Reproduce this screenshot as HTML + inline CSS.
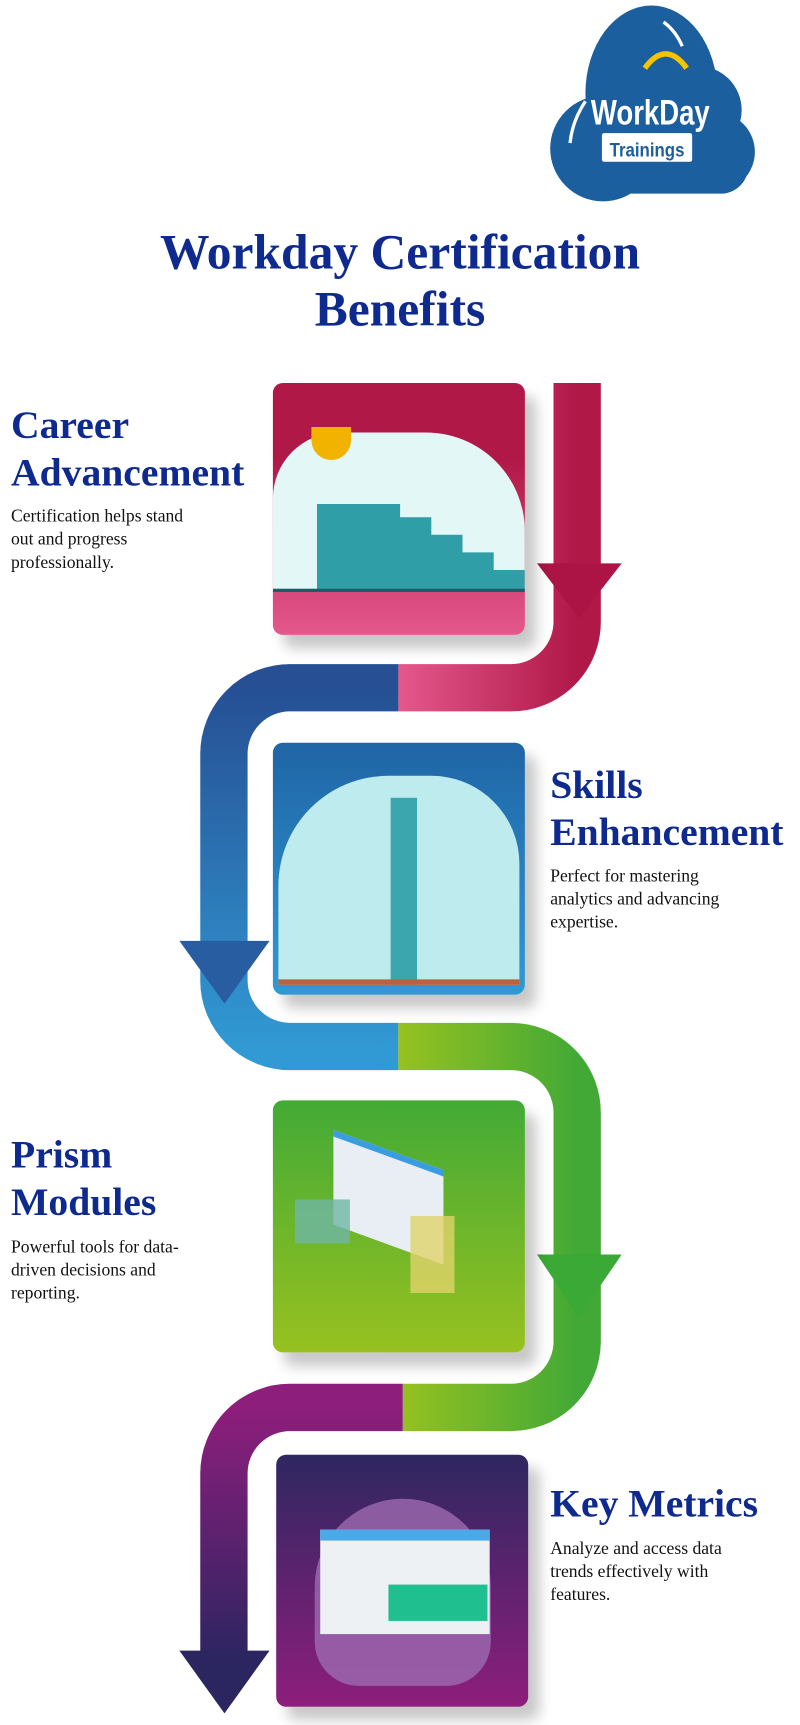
<!DOCTYPE html>
<html><head><meta charset="utf-8"><style>
html,body{margin:0;padding:0;background:#fff;}
body{width:800px;height:1724px;overflow:hidden;position:relative;}
#w{position:absolute;left:0;top:0;width:727px;height:1568px;transform:scale(1.1004);transform-origin:0 0;}
.t{position:absolute;font-family:"Liberation Serif",serif;}
.h{color:#0f2a8f;font-weight:bold;font-size:36px;line-height:43px;}
.p{color:#111;font-size:16px;line-height:21px;}
.card{position:absolute;width:229px;height:229px;border-radius:9px;box-shadow:10px 12px 12px rgba(0,0,0,.22);overflow:hidden;}
</style></head><body><div id="w">
<svg width="727" height="1568" style="position:absolute;left:0;top:0">
<defs>
<linearGradient id="gr" x1="0" x2="1"><stop offset="0" stop-color="#e4588c"/><stop offset="1" stop-color="#b01848"/></linearGradient>
<linearGradient id="gb" x1="0" y1="0" x2="0" y2="1"><stop offset="0" stop-color="#264f94"/><stop offset="1" stop-color="#3199d3"/></linearGradient>
<linearGradient id="gg" x1="0" x2="1"><stop offset="0" stop-color="#97c120"/><stop offset="1" stop-color="#42a936"/></linearGradient>
<linearGradient id="gp" x1="0" y1="0" x2="0" y2="1"><stop offset="0" stop-color="#8e1e7c"/><stop offset="1" stop-color="#2b2560"/></linearGradient>
</defs>
<!-- logo -->
<g fill="#1c5f9e">
<ellipse cx="592" cy="85" rx="60" ry="80"/>
<circle cx="548" cy="135" r="48"/><circle cx="650" cy="138" r="36"/><circle cx="634" cy="100" r="40"/>
<rect x="520" y="120" width="160" height="56" rx="25"/>
</g>
<path d="M586 62 Q605 36 624 62" stroke="#f5c400" stroke-width="5" fill="none"/>
<path d="M518 130 Q520 110 532 92" stroke="#fff" stroke-width="3" fill="none"/>
<path d="M603 20 Q614 28 620 42" stroke="#fff" stroke-width="3" fill="none"/>
<text x="591" y="113" font-family="Liberation Sans Narrow,Liberation Sans,sans-serif" font-weight="bold" font-size="32" fill="#fff" text-anchor="middle" textLength="108" lengthAdjust="spacingAndGlyphs">WorkDay</text>
<rect x="547" y="121" width="82" height="26" rx="2" fill="#fff"/>
<text x="588" y="142" font-family="Liberation Sans,sans-serif" font-weight="bold" font-size="18" fill="#1c5f9e" text-anchor="middle" textLength="68" lengthAdjust="spacingAndGlyphs">Trainings</text>
<!-- connectors -->
<path d="M524.5 348 V565 A60 60 0 0 1 464.5 625 H362" stroke="url(#gr)" stroke-width="43" fill="none"/>
<path d="M362 625 H264 A60 60 0 0 0 203.5 685 V890 A60 60 0 0 0 263.5 951 H362" stroke="url(#gb)" stroke-width="43" fill="none"/>
<path d="M362 951 H465 A60 60 0 0 1 524.5 1011 V1220 A60 60 0 0 1 464.5 1279 H366" stroke="url(#gg)" stroke-width="43" fill="none"/>
<path d="M366 1279 H264 A60 60 0 0 0 203.5 1339 V1510" stroke="url(#gp)" stroke-width="43" fill="none"/>
<polygon points="488,512 565,512 526,562" fill="#ab1444"/>
<polygon points="163,855 245,855 204,912" fill="#285ea1"/>
<polygon points="488,1140 565,1140 526,1197" fill="#3aa935"/>
<polygon points="163,1500 245,1500 204,1557" fill="#2b2560"/>
</svg>
<div class="t h" style="left:0;width:727px;top:203px;text-align:center;font-size:45px;line-height:52px;">Workday Certification<br>Benefits</div>

<div class="card" style="left:248px;top:348px;background:linear-gradient(#b01848 0,#b01848 30%,#e4588c 100%)">
<div style="position:absolute;left:0;top:45px;width:229px;height:145px;background:#e3f7f7;border-radius:60px 90px 0 0"></div>
<div style="position:absolute;left:40px;top:110px;width:189px;height:80px;background:#2f9ea6;clip-path:polygon(0 0,40% 0,40% 15%,55% 15%,55% 35%,70% 35%,70% 55%,85% 55%,85% 75%,100% 75%,100% 100%,0 100%)"></div>
<div style="position:absolute;left:35px;top:40px;width:36px;height:30px;background:#f2b200;border-radius:0 0 18px 18px"></div>
<div style="position:absolute;left:0;top:187px;width:229px;height:3px;background:#1d5e66"></div>
</div>
<div class="card" style="left:248px;top:675px;background:linear-gradient(#1f65a6,#3199d3)">
<div style="position:absolute;left:5px;top:30px;width:219px;height:190px;background:#bdebee;border-radius:100px 80px 0 0"></div>
<div style="position:absolute;left:107px;top:50px;width:24px;height:170px;background:#3ba6ae"></div>
<div style="position:absolute;left:5px;top:215px;width:219px;height:5px;background:#b5643f"></div>
</div>
<div class="card" style="left:248px;top:1000px;background:linear-gradient(#42aa36,#97c120)">
<div style="position:absolute;left:55px;top:45px;width:100px;height:80px;background:#e9eef5;transform:skewY(20deg);border-top:6px solid #3a9de0"></div>
<div style="position:absolute;left:20px;top:90px;width:50px;height:40px;background:#6fb7a5;opacity:.8"></div>
<div style="position:absolute;left:125px;top:105px;width:40px;height:70px;background:#e0d36a;opacity:.8"></div>
</div>
<div class="card" style="left:251px;top:1322px;background:linear-gradient(#2e2760,#8e1e7c)">
<div style="position:absolute;left:35px;top:40px;width:160px;height:170px;background:#9d6ab0;border-radius:80px 80px 40px 40px;opacity:.8"></div>
<div style="position:absolute;left:40px;top:68px;width:154px;height:85px;background:#eef1f4;border-top:10px solid #4aa9e6"></div>
<div style="position:absolute;left:102px;top:118px;width:90px;height:33px;background:#1fbf8f"></div>
</div>

<div class="t h" style="left:10px;top:365px;">Career<br>Advancement</div>
<div class="t p" style="left:10px;top:459px;">Certification helps stand<br>out and progress<br>professionally.</div>
<div class="t h" style="left:500px;top:692px;">Skills<br>Enhancement</div>
<div class="t p" style="left:500px;top:786px;">Perfect for mastering<br>analytics and advancing<br>expertise.</div>
<div class="t h" style="left:10px;top:1028px;">Prism<br>Modules</div>
<div class="t p" style="left:10px;top:1123px;">Powerful tools for data-<br>driven decisions and<br>reporting.</div>
<div class="t h" style="left:500px;top:1345px;">Key Metrics</div>
<div class="t p" style="left:500px;top:1397px;">Analyze and access data<br>trends effectively with<br>features.</div>
</div></body></html>
